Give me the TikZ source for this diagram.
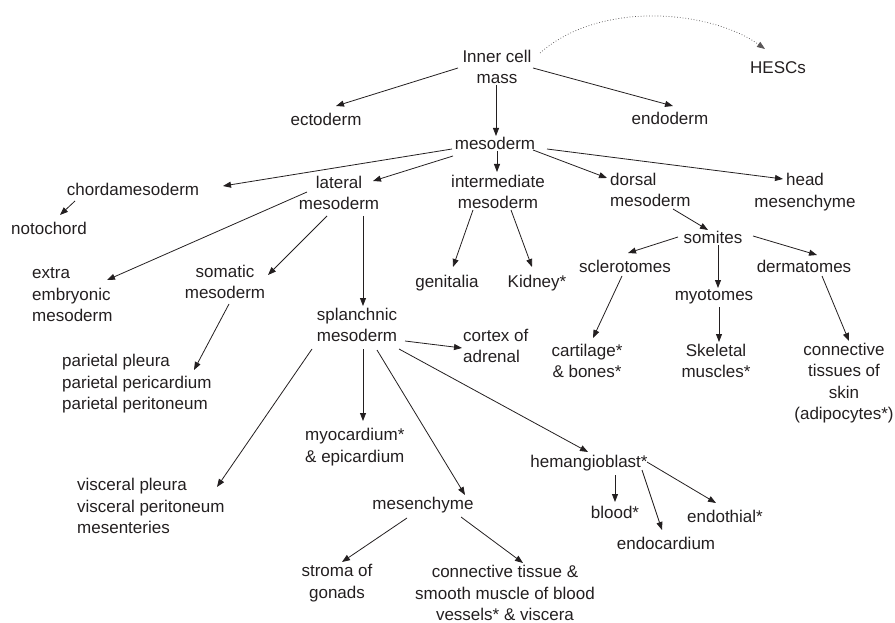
\documentclass[tikz,border=0pt]{standalone}
\usepackage{fontspec}
\setmainfont{Liberation Sans}
\usetikzlibrary{arrows.meta,calc}
\definecolor{ink}{HTML}{231F20}
\begin{document}
\begin{tikzpicture}[x=1pt,y=-1pt,
  lbl/.style={inner sep=0pt,text=ink,font=\fontsize{17}{21.5}\selectfont,align=center},
  lbll/.style={lbl,align=left,anchor=west},
  arr/.style={draw=ink,line width=0.8pt,-{Triangle[length=8pt,width=6pt]}},
  dotarr/.style={arr,dotted,line width=0.7pt,draw=ink!75}]
\useasboundingbox (0,0) rectangle (895,623);
% nodes
\node[lbl] (icm) at (497,67) {Inner cell\\mass};
\node[lbl] (hesc) at (778,68) {HESCs};
\node[lbl] (ecto) at (326,119) {ectoderm};
\node[lbl] (endo) at (670,118) {endoderm};
\node[lbl] (meso) at (495,143) {mesoderm};
\node[lbl] (chorda) at (133,189) {chordamesoderm};
\node[lbl] (noto) at (49,228) {notochord};
\node[lbl] (lat) at (339,193) {lateral\\mesoderm};
\node[lbl] (inter) at (498,192) {intermediate\\mesoderm};
\node[lbll] (dorsal) at (610,190) {dorsal\\mesoderm};
\node[lbl] (head) at (805,192) {head\\mesenchyme};
\node[lbl] (somites) at (713,237) {somites};
\node[lbl] (sclero) at (625,266) {sclerotomes};
\node[lbl] (derma) at (804,266) {dermatomes};
\node[lbl] (myo) at (714,297) {myotomes};
\node[lbl] (genit) at (447,283) {genitalia};
\node[lbl] (kidney) at (537,283) {Kidney*};
\node[lbl] (cart) at (587,361) {cartilage*\\\& bones*};
\node[lbl] (skel) at (716,361) {Skeletal\\muscles*};
\node[lbl] (conn) at (844,383) {connective\\tissues of\\skin\\(adipocytes*)};
\node[lbll] (cortex) at (463,346) {cortex of\\adrenal};
\node[lbll] (extra) at (32,295) {extra\\embryonic\\mesoderm};
\node[lbl] (somatic) at (225,282) {somatic\\mesoderm};
\node[lbl] (splanch) at (357,325) {splanchnic\\mesoderm};
\node[lbll] (pariet) at (62,384) {parietal pleura\\parietal pericardium\\parietal peritoneum};
\node[lbll] (visc) at (77,506) {visceral pleura\\visceral peritoneum\\mesenteries};
\node[lbll] (myoc) at (305,447) {myocardium*\\\& epicardium};
\node[lbl] (hemang) at (589,463) {hemangioblast*};
\node[lbl] (blood) at (615,512) {blood*};
\node[lbl] (endoth) at (725,516) {endothial*};
\node[lbl] (endoc) at (666,543) {endocardium};
\node[lbl] (mesench) at (423,505) {mesenchyme};
\node[lbl] (stroma) at (337,583) {stroma of\\gonads};
\node[lbl] (connt) at (505,593) {connective tissue \&\\smooth muscle of blood\\vessels* \& viscera};
% connectors
\draw[arr] ($(icm)+(-39,1)$) -- ($(ecto)+(10,-13)$);
\draw[arr] ($(icm)+(-1,18)$) -- ($(meso)+(1,-7)$);
\draw[arr] ($(icm)+(36,1)$) -- ($(endo)+(3,-12)$);
\draw[dotarr] ($(icm)+(43,-14)$) .. controls (600,0) and (710,10) .. ($(hesc)+(-13,-19)$);
\draw[arr] ($(meso)+(-43,6)$) -- ($(chorda)+(90,-3)$);
\draw[arr] ($(meso)+(-42,13)$) -- ($(lat)+(34,-12)$);
\draw[arr] ($(meso)+(2,8)$) -- ($(inter)+(-1,-20)$);
\draw[arr] ($(meso)+(38,7)$) -- ($(dorsal.west)+(-3,-12)$);
\draw[arr] ($(meso)+(52,6)$) -- ($(head)+(-22,-13)$);
\draw[arr] ($(chorda)+(-58,12)$) -- ($(noto)+(11,-13)$);
\draw[arr] ($(lat)+(-32,-1)$) -- ($(extra.west)+(75,-15)$);
\draw[arr] ($(lat)+(-12,23)$) -- ($(somatic)+(43,-7)$);
\draw[arr] ($(lat)+(24,23)$) -- ($(splanch)+(6,-19)$);
\draw[arr] ($(somatic)+(4,22)$) -- ($(pariet.west)+(132,-14)$);
\draw[arr] ($(inter)+(-25,18)$) -- ($(genit)+(6,-16)$);
\draw[arr] ($(inter)+(13,18)$) -- ($(kidney)+(-5,-16)$);
\draw[arr] ($(dorsal.west)+(63,19)$) -- ($(somites)+(-5,-7)$);
\draw[arr] ($(somites)+(-35,0)$) -- ($(sclero)+(3,-13)$);
\draw[arr] ($(somites)+(5,8)$) -- ($(myo)+(4,-9)$);
\draw[arr] ($(somites)+(40,-1)$) -- ($(derma)+(13,-11)$);
\draw[arr] ($(sclero)+(-3,10)$) -- ($(cart)+(6,-23)$);
\draw[arr] ($(myo)+(5,10)$) -- ($(skel)+(3,-19)$);
\draw[arr] ($(derma)+(18,10)$) -- ($(conn)+(5,-42)$);
\draw[arr] ($(splanch)+(48,16)$) -- ($(cortex.west)+(-1,2)$);
\draw[arr] ($(splanch)+(42,24)$) -- ($(hemang)+(-1,-11)$);
\draw[arr] ($(splanch)+(-45,24)$) -- ($(visc.west)+(140,-19)$);
\draw[arr] ($(splanch)+(6,24)$) -- ($(myoc.west)+(58,-26)$);
\draw[arr] ($(splanch)+(20,25)$) -- ($(mesench)+(42,-10)$);
\draw[arr] ($(hemang)+(26,12)$) -- ($(blood)+(0,-10)$);
\draw[arr] ($(hemang)+(53,7)$) -- ($(endoc)+(-4,-13)$);
\draw[arr] ($(hemang)+(58,-1)$) -- ($(endoth)+(-9,-13)$);
\draw[arr] ($(mesench)+(-16,13)$) -- ($(stroma)+(5,-21)$);
\draw[arr] ($(mesench)+(38,12)$) -- ($(connt)+(18,-30)$);
\end{tikzpicture}
\end{document}
